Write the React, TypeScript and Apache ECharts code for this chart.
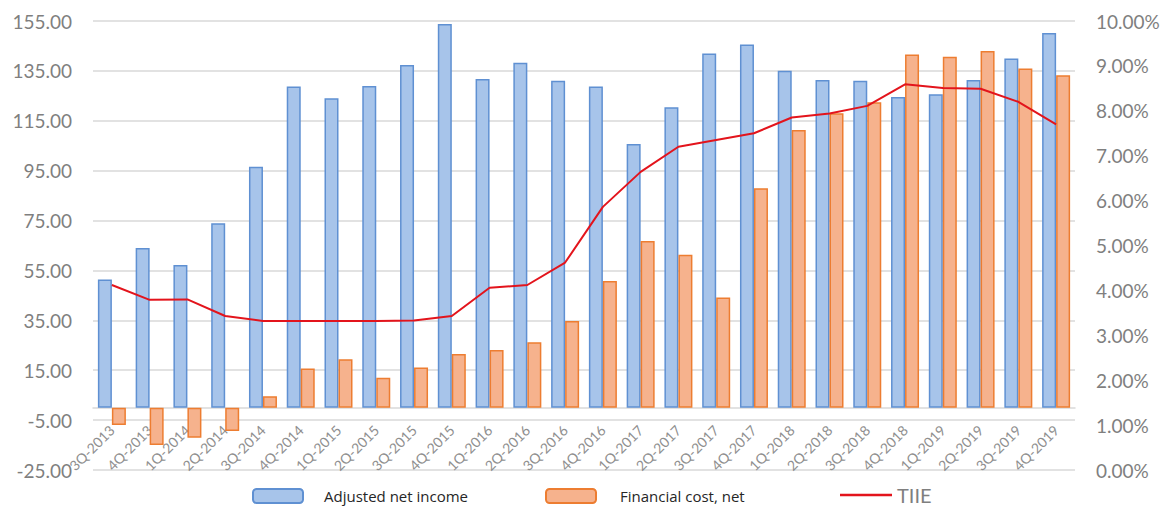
import React, { useEffect, useRef } from "react";
import * as echarts from "echarts";

// Quarterly periods on the category axis
const quarters = [
  "3Q-2013", "4Q-2013",
  "1Q-2014", "2Q-2014", "3Q-2014", "4Q-2014",
  "1Q-2015", "2Q-2015", "3Q-2015", "4Q-2015",
  "1Q-2016", "2Q-2016", "3Q-2016", "4Q-2016",
  "1Q-2017", "2Q-2017", "3Q-2017", "4Q-2017",
  "1Q-2018", "2Q-2018", "3Q-2018", "4Q-2018",
  "1Q-2019", "2Q-2019", "3Q-2019", "4Q-2019",
];

// Amounts (left axis)
const adjustedNetIncome = [
  51.4, 64.0, 57.2, 73.9, 96.6, 128.7, 124.0, 128.9, 137.4, 153.8,
  131.7, 138.3, 131.0, 128.7, 105.7, 120.4, 142.0, 145.6, 135.1, 131.3,
  131.0, 124.5, 125.6, 131.3, 140.0, 150.2,
];
const financialCostNet = [
  -7.0, -15.0, -12.1, -9.4, 4.6, 15.7, 19.4, 12.0, 16.1, 21.5,
  23.1, 26.2, 34.7, 50.8, 66.8, 61.3, 44.2, 88.0, 111.3, 118.0,
  122.4, 141.6, 140.7, 143.0, 136.0, 133.3,
];

// TIIE rate in percent (right axis)
const tiie = [
  4.12, 3.79, 3.8, 3.43, 3.32, 3.32, 3.32, 3.32, 3.33, 3.43,
  4.06, 4.12, 4.62, 5.86, 6.64, 7.2, 7.35, 7.5, 7.85, 7.94,
  8.11, 8.59, 8.51, 8.49, 8.2, 7.7,
];

// Left scale runs from -25 to 155 in steps of 20
const leftMin = -25;
const leftMax = 155;
const leftStep = 20;

const axisFont = "Lato, 'Open Sans', sans-serif";
const gridColor = "#d9d9d9";
const labelColor = "#7f7f7f";

// Plot box
const gridTop = 21;
const gridBottom = 38;
const chartHeight = 508;
const plotHeight = chartHeight - gridTop - gridBottom;
// Shift the category axis up from the bottom edge to the zero level
const zeroOffset = -(plotHeight * (0 - leftMin)) / (leftMax - leftMin);

export default function App() {
  const ref = useRef<HTMLDivElement>(null);

  useEffect(() => {
    if (!ref.current) return;
    const chart = echarts.init(ref.current, undefined, { renderer: "svg" });

    chart.setOption({
      animation: false,
      backgroundColor: "#ffffff",
      grid: {
        left: 93,
        right: 94,
        top: gridTop,
        bottom: gridBottom,
        containLabel: false,
        outerBoundsMode: "none",
      },
      legend: [
        {
          data: ["Adjusted net income"],
          left: 252,
          top: 488,
          itemWidth: 50,
          itemHeight: 14,
          padding: 0,
          textStyle: {
            fontFamily: "'Open Sans', sans-serif",
            fontSize: 15,
            color: "#262626",
            padding: [0, 0, 0, 16],
          },
        },
        {
          data: ["Financial cost, net"],
          left: 545,
          top: 488,
          itemWidth: 50,
          itemHeight: 14,
          padding: 0,
          textStyle: {
            fontFamily: "'Open Sans', sans-serif",
            fontSize: 15,
            color: "#262626",
            padding: [0, 0, 0, 19],
          },
        },
        {
          data: [{ name: "TIIE", icon: "rect" }],
          left: 840,
          top: 485,
          itemWidth: 52,
          itemHeight: 2.5,
          padding: 0,
          textStyle: {
            fontFamily: axisFont,
            fontSize: 20,
            color: labelColor,
            padding: [0, 0, 0, 0],
          },
        },
      ],
      xAxis: {
        type: "category",
        data: quarters,
        position: "bottom",
        offset: zeroOffset,
        axisLine: {
          onZero: false,
          lineStyle: { color: gridColor, width: 1.5 },
        },
        axisTick: { show: false },
        axisLabel: {
          interval: 0,
          rotate: 45,
          margin: 20,
          fontFamily: axisFont,
          fontSize: 14,
          color: "#8f8f8f",
        },
        splitLine: { show: false },
      },
      yAxis: [
        {
          // value scale for the bars
          type: "value",
          min: leftMin,
          max: leftMax,
          show: false,
          splitLine: { show: false },
        },
        {
          // rate scale, right side
          type: "value",
          position: "right",
          min: 0,
          max: 10,
          interval: 1,
          axisLine: { show: false },
          axisTick: { show: false },
          splitLine: { show: false },
          axisLabel: {
            margin: 21,
            fontFamily: axisFont,
            fontSize: 19,
            color: labelColor,
            formatter: (v: number) => v.toFixed(2) + "%",
          },
        },
        {
          // tick labels and gridlines of the left scale
          type: "value",
          position: "left",
          min: 0,
          max: leftMax - leftMin,
          interval: leftStep,
          axisLine: { show: false },
          axisTick: { show: false },
          splitLine: { lineStyle: { color: gridColor, width: 1.5 } },
          axisLabel: {
            margin: 21,
            fontFamily: axisFont,
            fontSize: 19,
            color: labelColor,
            formatter: (v: number) => (v + leftMin).toFixed(2),
          },
        },
      ],
      series: [
        {
          name: "Adjusted net income",
          type: "bar",
          yAxisIndex: 0,
          data: adjustedNetIncome,
          barWidth: 14,
          barGap: "0%",
          itemStyle: {
            color: "#a7c4ea",
            borderColor: "#5f90d2",
            borderWidth: 1.5,
          },
        },
        {
          name: "Financial cost, net",
          type: "bar",
          yAxisIndex: 0,
          data: financialCostNet,
          barWidth: 14,
          barGap: "0%",
          itemStyle: {
            color: "#f6b28d",
            borderColor: "#ed7d31",
            borderWidth: 1.5,
          },
        },
        {
          name: "TIIE",
          type: "line",
          yAxisIndex: 1,
          data: tiie,
          showSymbol: false,
          symbol: "none",
          lineStyle: { color: "#e3141c", width: 2 },
          itemStyle: { color: "#e3141c" },
          z: 5,
        },
      ],
    });

    return () => chart.dispose();
  }, []);

  return (
    <div
      ref={ref}
      style={{ position: "fixed", left: 0, top: 0, width: 1169, height: 508 }}
    />
  );
}
